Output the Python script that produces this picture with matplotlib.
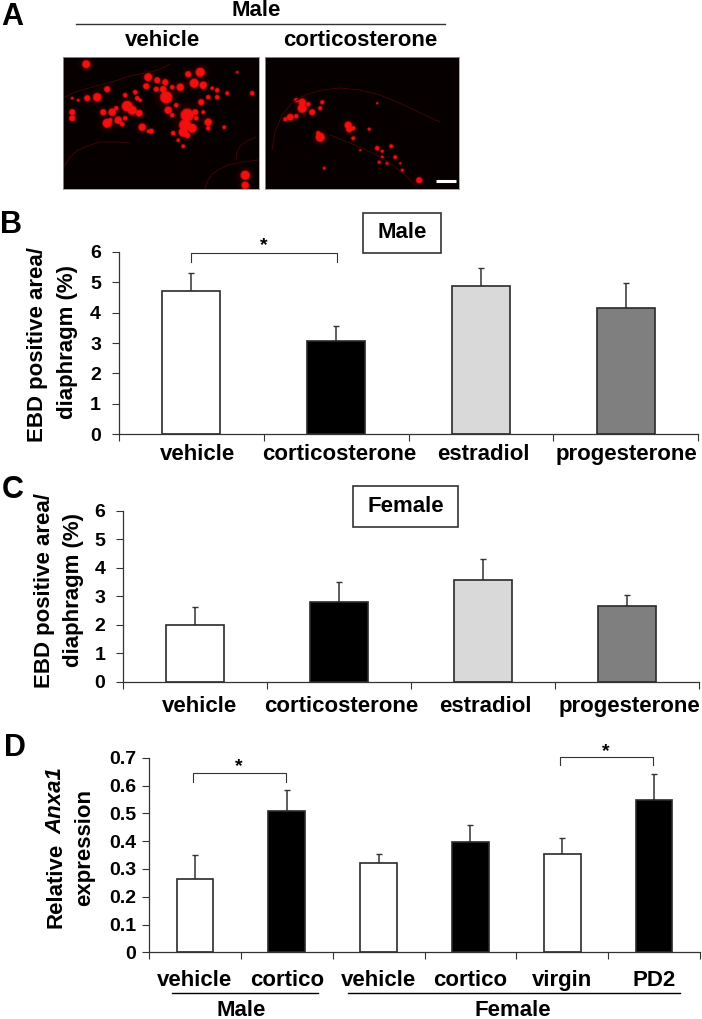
import matplotlib
matplotlib.use('Agg')
import matplotlib.pyplot as plt
import numpy as np

plt.rcParams['font.family'] = ['Liberation Sans', 'DejaVu Sans']
plt.rcParams['font.weight'] = 'bold'

W, H = 702, 1019

# Panel B / C data
hormones = ['vehicle', 'corticosterone', 'estradiol', 'progesterone']
hormone_colors = ['white', 'black', '#d9d9d9', '#7f7f7f']
male_values = [4.7, 3.05, 4.88, 4.15]
male_errors = [0.6, 0.5, 0.6, 0.82]
female_values = [2.0, 2.79, 3.57, 2.65]
female_errors = [0.64, 0.7, 0.74, 0.39]

# Panel D data
anxa_labels = ['vehicle', 'cortico', 'vehicle', 'cortico', 'virgin', 'PD2']
anxa_colors = ['white', 'black', 'white', 'black', 'white', 'black']
anxa_values = [0.265, 0.507, 0.322, 0.398, 0.352, 0.547]
anxa_errors = [0.086, 0.078, 0.033, 0.06, 0.06, 0.095]

# Panel A micrographs: bright cell bodies, (x, y, radius) in pixels of the crop
vehicle_cells = [
    (86, 64, 3.5), (148, 77, 3.5), (157, 80, 2.7), (200, 72, 4), (188, 74, 2.7), (194, 83, 4),
    (203, 85, 3.3), (180, 87, 3.3), (165, 82, 2.7), (163, 89, 3), (172, 87, 2), (166, 97, 5.3),
    (146, 86, 2.7), (135, 92, 2), (156, 89, 2.3), (97, 97, 3.7), (87, 98, 2.7), (107, 89, 2.7),
    (125, 95, 2), (127, 106, 4.7), (132, 110, 4), (139, 113, 3), (137, 98, 2), (112, 112, 3.3),
    (103, 112, 2.7), (107, 123, 4), (118, 120, 3.3), (125, 118, 2), (142, 127, 3.3), (151, 131, 2.3),
    (72, 112, 2.7), (72, 118, 2.7), (168, 110, 3.3), (172, 115, 2), (201, 102, 2.7), (208, 97, 2),
    (217, 90, 2), (187, 115, 5.7), (195, 112, 2.7), (185, 125, 5.3), (192, 128, 4), (183, 132, 4),
    (187, 135, 2.7), (208, 122, 3.3), (208, 128, 2), (173, 133, 2), (183, 146, 1.7), (227, 93, 1.7),
    (245, 175, 4), (245, 185, 3.3), (78, 100, 1.3), (72, 98, 1.3), (217, 97, 2), (203, 112, 1.7),
    (224, 127, 1.7), (237, 72, 1.2), (252, 93, 2), (116, 108, 2), (110, 120, 2), (122, 124, 2),
    (140, 100, 1.6), (148, 131, 1.6), (176, 105, 2), (178, 140, 1.6), (196, 118, 2), (212, 88, 1.6),
]
cortico_cells = [
    (302, 102, 3.3), (302, 108, 4), (322, 102, 1.8), (320, 108, 1.8), (312, 112, 2.7), (290, 117, 3),
    (285, 119, 1.8), (348, 125, 3.2), (349, 129, 2.8), (353, 128, 2), (320, 137, 4), (369, 129, 1.4),
    (353, 138, 1.7), (377, 148, 2), (391, 146, 1.7), (382, 151, 1.4), (395, 157, 1.7), (382, 157, 1.4),
    (379, 162, 1.4), (387, 163, 1.4), (400, 163, 1), (402, 170, 1.4), (419, 180, 2.7), (324, 168, 1.3),
    (377, 103, 1), (360, 150, 1), (296, 100, 2), (308, 104, 2), (296, 116, 2), (318, 133, 2),
]

# Faint tissue outlines in the micrographs
vehicle_outlines = [
    [(65, 97), (75, 92), (85, 89), (100, 85), (115, 81), (130, 76), (150, 72), (160, 69), (170, 64)],
    [(63, 168), (70, 157), (78, 150), (90, 145), (100, 142), (115, 142), (130, 143)],
    [(205, 189), (208, 180), (212, 174), (220, 169), (228, 165), (242, 162), (258, 160)],
    [(236, 160), (237, 152), (240, 146), (247, 141), (256, 137)],
]
cortico_outlines = [
    [(272, 150), (275, 132), (282, 115), (292, 103), (305, 95), (322, 90), (340, 88), (360, 90),
     (380, 95), (395, 101), (410, 108), (425, 115), (440, 122)],
    [(330, 135), (342, 140), (355, 145), (370, 152), (385, 160), (395, 167), (405, 175), (415, 185)],
]

fig = plt.figure(figsize=(W / 100, H / 100), dpi=100)


def px_axes(left, top, right, bottom):
    return fig.add_axes([left / W, 1 - bottom / H, (right - left) / W, (bottom - top) / H])


def px_text(x, y, s, **kw):
    kw.setdefault('ha', 'center')
    kw.setdefault('va', 'center')
    fig.text(x / W, 1 - y / H, s, **kw)


def px_line(xs, ys, color='black', lw=1.0):
    fig.add_artist(plt.Line2D([x / W for x in xs], [1 - y / H for y in ys], color=color, lw=lw))


def micrograph(left, top, right, bottom, cells, outlines):
    yy, xx = np.mgrid[top:bottom:0.5, left:right:0.5]
    img = np.zeros(xx.shape)
    glow = np.zeros(xx.shape)
    for cx, cy, r in cells:
        d = np.hypot(xx - cx, yy - cy) / (r * 1.15)
        img = np.maximum(img, np.clip((1.2 - d) * 3, 0, 1))
        glow = np.maximum(glow, np.clip(1 - d / 2.2, 0, 1))
    level = np.maximum(img, glow * 0.28)
    rgb = np.zeros(xx.shape + (3,))
    rgb[..., 0] = np.clip(level * 0.93 + 0.03, 0, 1)
    rgb[..., 1] = img * 0.06
    rgb[..., 2] = img * 0.06
    ax = px_axes(left, top, right, bottom)
    ax.imshow(rgb, extent=(left, right, bottom, top), interpolation='bilinear', aspect='auto')
    for line in outlines:
        ax.plot([p[0] for p in line], [p[1] for p in line], color='#3c0606', lw=0.7)
    ax.set_xlim(left, right)
    ax.set_ylim(bottom, top)
    ax.set_xticks([])
    ax.set_yticks([])
    for s in ax.spines.values():
        s.set_color('#999999')
        s.set_linewidth(0.6)
    return ax


def bars(ax, values, errors, colors, labels, ymax, yticks, yfmt, ypad, xpad, label_shift):
    x = np.arange(len(values)) + 0.5
    ax.bar(x, values, width=0.4, color=colors, edgecolor='#2a2a2a', linewidth=1.2, zorder=2)
    for xi, v, e in zip(x, values, errors):
        ax.errorbar(xi, v, yerr=[[0], [e]], color='#333333', elinewidth=1.1, capsize=2.2, capthick=1.0, zorder=1)
    ax.set_xlim(0, len(values))
    ax.set_ylim(0, ymax)
    ax.set_yticks(yticks)
    ax.set_yticklabels([yfmt(t) for t in yticks], fontsize=14, fontweight='bold')
    ax.set_xticks(np.arange(len(values) + 1))
    ax.set_xticklabels([])
    ax.set_xticks(x + np.array(label_shift), labels, minor=True, fontsize=16, fontweight='bold')
    ax.tick_params(axis='x', which='major', length=5, width=0.8, color='#333333')
    ax.tick_params(axis='x', which='minor', length=0, pad=xpad)
    ax.tick_params(axis='y', length=5, width=0.8, color='#333333', pad=ypad)
    for s in ['top', 'right']:
        ax.spines[s].set_visible(False)
    for s in ['left', 'bottom']:
        ax.spines[s].set_color('#333333')
        ax.spines[s].set_linewidth(0.9)
    ax.patch.set_alpha(0)


def bracket(x0, x1, top, bottom, star_y):
    px_line([x0, x0, x1, x1], [bottom, top, top, bottom], color='#333333', lw=0.8)
    px_text((x0 + x1) / 2, star_y, '*', fontsize=14, fontweight='bold')


def boxed(x0, y0, x1, y1, s):
    fig.add_artist(plt.Rectangle((x0 / W, 1 - y1 / H), (x1 - x0) / W, (y1 - y0) / H, facecolor='white',
                                 edgecolor='#333333', linewidth=1.2, transform=fig.transFigure))
    px_text((x0 + x1) / 2, (y0 + y1) / 2, s, fontsize=16, fontweight='bold')


# Panel A
px_text(12.5, 17, 'A', fontsize=22, fontweight='bold')
px_text(256, 10, 'Male', fontsize=16, fontweight='bold')
px_line([76, 445], [24, 24], color='#333333', lw=1.0)
px_text(162.5, 40, 'vehicle', fontsize=16, fontweight='bold')
px_text(360.5, 40, 'corticosterone', fontsize=16, fontweight='bold')
micrograph(63, 57, 259, 189, vehicle_cells, vehicle_outlines)
ax_a2 = micrograph(265, 57, 459, 189, cortico_cells, cortico_outlines)
ax_a2.plot([436, 456], [181, 181], color='white', lw=2.2, solid_capstyle='butt')

# Panel B
px_text(10.5, 225, 'B', fontsize=22, fontweight='bold')
ax_b = px_axes(119, 251.7, 698, 434.3)
bars(ax_b, male_values, male_errors, hormone_colors, hormones, 6, range(7), str, 8, 7,
     [0.04, 0.02, 0.02, 0.005])
px_text(38, 345, 'EBD positive area/', fontsize=16, fontweight='bold', rotation=90)
px_text(68, 342, 'diaphragm (%)', fontsize=16, fontweight='bold', rotation=90)
bracket(191, 336.6, 253, 261.7, 246)
boxed(362.6, 212.7, 441, 252.7, 'Male')

# Panel C
px_text(12.5, 490, 'C', fontsize=22, fontweight='bold')
ax_c = px_axes(122.7, 510.7, 699, 682)
bars(ax_c, female_values, female_errors, hormone_colors, hormones, 6, range(7), str, 7.5, 10,
     [0.035, 0.015, 0.02, 0.02])
px_text(44.7, 591, 'EBD positive area/', fontsize=16, fontweight='bold', rotation=90)
px_text(73, 590, 'diaphragm (%)', fontsize=16, fontweight='bold', rotation=90)
boxed(352.7, 485.7, 458, 526.7, 'Female')

# Panel D
px_text(14.6, 748, 'D', fontsize=22, fontweight='bold')
ax_d = px_axes(149, 757.7, 700, 952.3)
yt = [0, 0.1, 0.2, 0.3, 0.4, 0.5, 0.6, 0.7]
bars(ax_d, anxa_values, anxa_errors, anxa_colors, anxa_labels, 0.7, yt,
     lambda t: '0' if t == 0 else f'{t:.1f}', 4, 13, [0] * 6)
px_text(56, 885, 'Relative', fontsize=16, fontweight='bold', rotation=90)
px_text(56, 801, 'Anxa1', fontsize=16, fontweight='bold', fontstyle='italic', rotation=90)
px_text(85, 848, 'expression', fontsize=16, fontweight='bold', rotation=90)
bracket(192.5, 285.6, 773, 781.7, 767)
bracket(559.5, 652.6, 757, 765, 752)
px_line([172, 318], [993, 993], color='black', lw=1.0)
px_line([348, 680], [993, 993], color='black', lw=1.0)
px_text(241, 1010, 'Male', fontsize=16, fontweight='bold')
px_text(513, 1010, 'Female', fontsize=16, fontweight='bold')

fig.savefig('out.png', dpi=100)
